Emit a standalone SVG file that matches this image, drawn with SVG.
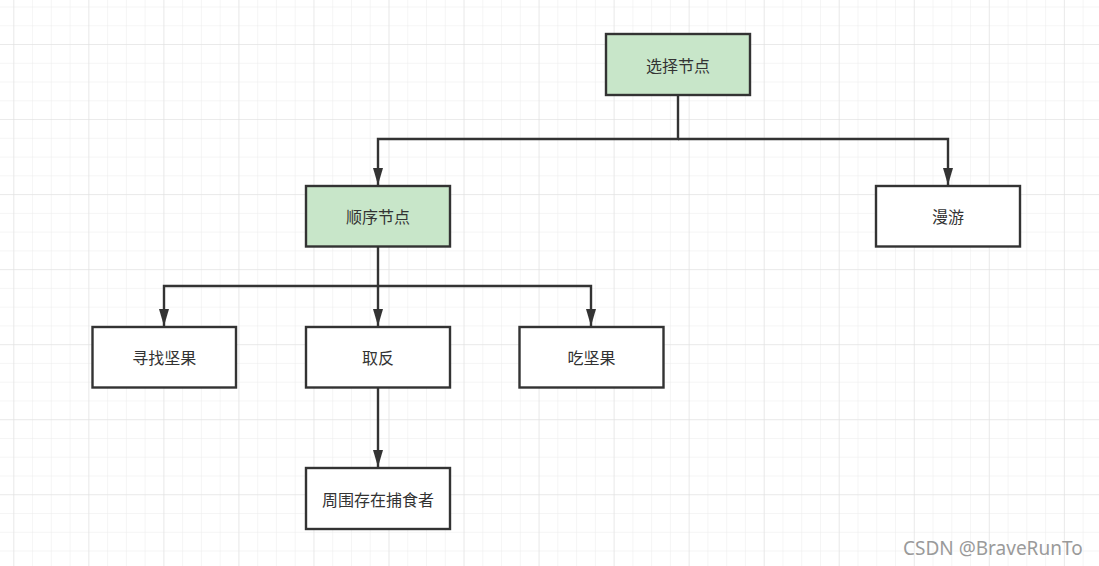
<svg xmlns="http://www.w3.org/2000/svg" width="1099" height="566" viewBox="0 0 1099 566">
<style>
.box{stroke:#333;stroke-width:2.4;}
.g{fill:#c8e6c9;}
.w{fill:#ffffff;}
.t{font-family:"Noto Sans CJK SC","Noto Sans",sans-serif;font-size:16px;fill:#333;text-anchor:middle;dominant-baseline:central;}
.c{fill:none;stroke:#333;stroke-width:2.4;}
.wm{font-family:"Noto Sans","Open Sans",sans-serif;font-size:19px;fill:#9a9a9a;stroke:#ffffff;stroke-width:0.6;paint-order:stroke;}
</style>
<defs>
<pattern id="minor" patternUnits="userSpaceOnUse" x="13.3" y="6.5" width="18.76" height="18.76">
<path d="M 0 0 H 18.76 M 0 0 V 18.76" fill="none" stroke="#ececec" stroke-width="1"/>
</pattern>
<pattern id="major" patternUnits="userSpaceOnUse" x="13.3" y="44" width="75.04" height="75.04">
<path d="M 0 0 H 75.04 M 0 0 V 75.04" fill="none" stroke="#e0e0e0" stroke-width="1"/>
</pattern>
<marker id="ah" viewBox="0 0 17 10" markerWidth="17" markerHeight="10" refX="17" refY="5" orient="auto" markerUnits="userSpaceOnUse">
<path d="M 0 0 L 17 5 L 0 10 Z" fill="#333"/>
</marker>
</defs>
<rect width="1099" height="566" fill="#ffffff"/>
<rect width="1099" height="566" fill="url(#minor)"/>
<rect width="1099" height="566" fill="url(#major)"/>

<g id="connectors">
<path class="c" d="M 678 95 V 139 H 378 V 185" marker-end="url(#ah)"/>
<path class="c" d="M 678 139 H 948 V 185" marker-end="url(#ah)"/>
<path class="c" d="M 378 247 V 286 H 164 V 326" marker-end="url(#ah)"/>
<path class="c" d="M 378 286 V 326" marker-end="url(#ah)"/>
<path class="c" d="M 378 286 H 591 V 326" marker-end="url(#ah)"/>
<path class="c" d="M 378 388 V 467" marker-end="url(#ah)"/>
</g>

<g id="select">
<rect class="box g" x="606" y="34" width="144" height="61"/>
<text class="t" x="678" y="64.5">选择节点</text>
</g>
<g id="sequence">
<rect class="box g" x="306" y="186" width="144" height="60.5"/>
<text class="t" x="378" y="216.3">顺序节点</text>
</g>
<g id="wander">
<rect class="box w" x="876" y="186" width="144" height="60.5"/>
<text class="t" x="948" y="216.3">漫游</text>
</g>
<g id="findnut">
<rect class="box w" x="92.5" y="327" width="143.5" height="60.5"/>
<text class="t" x="164.3" y="357.3">寻找坚果</text>
</g>
<g id="invert">
<rect class="box w" x="306" y="327" width="144" height="60.5"/>
<text class="t" x="378" y="357.3">取反</text>
</g>
<g id="eatnut">
<rect class="box w" x="519.5" y="327" width="144" height="60.5"/>
<text class="t" x="591.5" y="357.3">吃坚果</text>
</g>
<g id="predator">
<rect class="box w" x="306" y="468" width="144" height="61"/>
<text class="t" x="378" y="498.5">周围存在捕食者</text>
</g>

<text class="wm" x="903" y="554.5">CSDN @BraveRunTo</text>
</svg>
